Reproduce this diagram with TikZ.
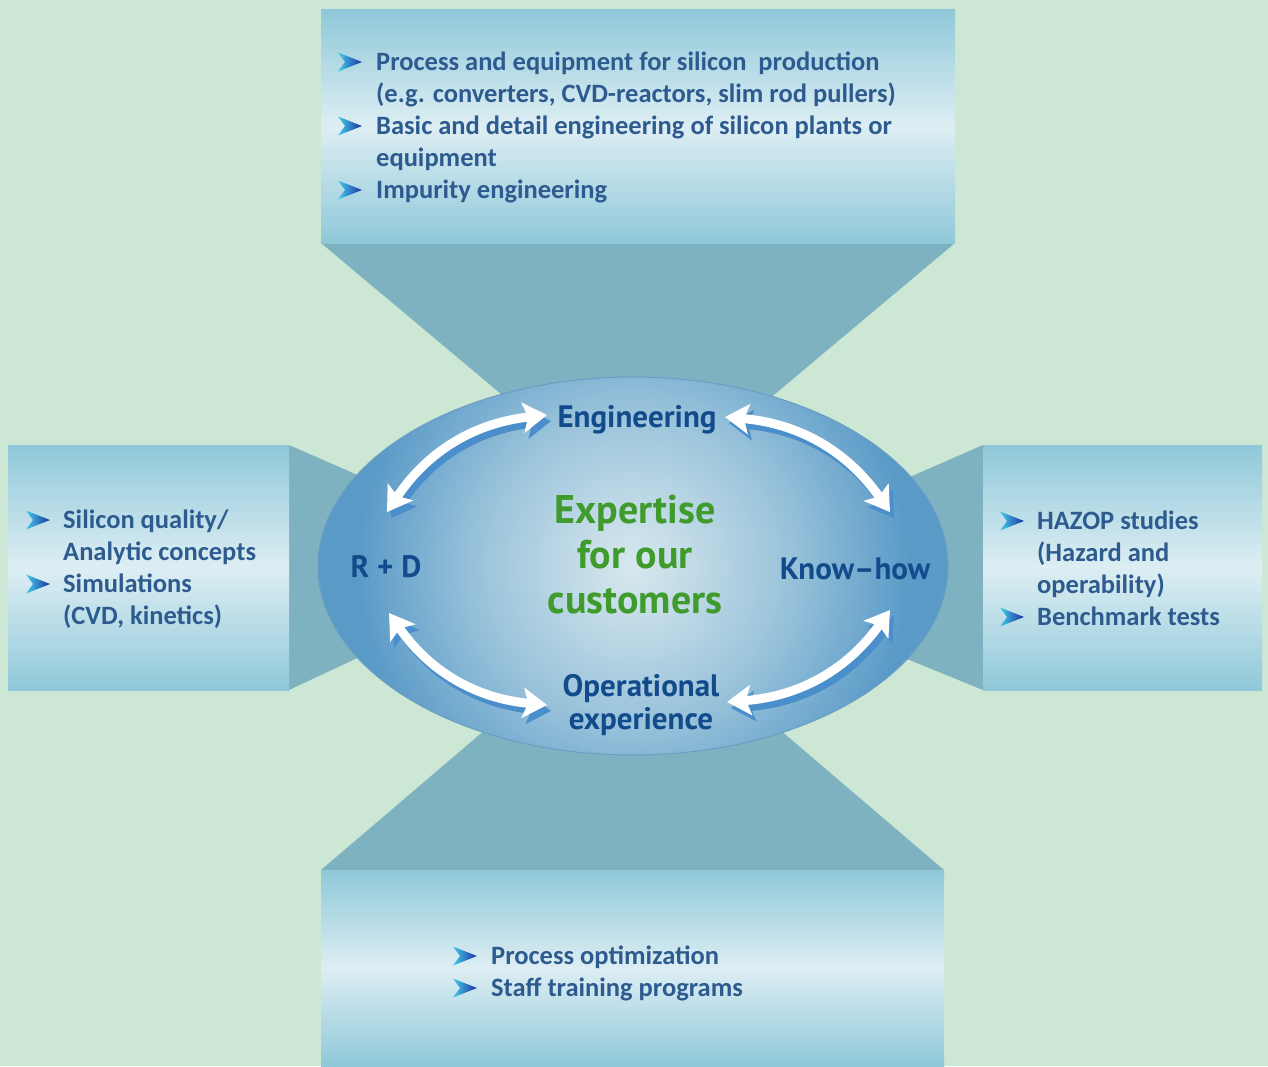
\documentclass[tikz,border=0pt]{standalone}
\usepackage{fontspec}
\setmainfont{Carlito}
\newfontfamily\hubfont{PT Sans}
\usetikzlibrary{positioning,arrows.meta}

\definecolor{bgGreen}{HTML}{CDE7D5}
\definecolor{trapFill}{HTML}{7FB2C1}
\definecolor{boxEdge}{HTML}{8FC8D9}
\definecolor{boxMid}{HTML}{DDEEF3}
\definecolor{itemBlue}{HTML}{2E5B8F}
\definecolor{hubBlue}{HTML}{124B8C}
\definecolor{hubGreen}{HTML}{3E9B2C}
\definecolor{bulCyan}{HTML}{45CBE8}
\definecolor{bulBlue}{HTML}{1A33A3}
\definecolor{arrowShadow}{HTML}{4A8FCB}
\definecolor{hubC}{HTML}{D6E7EE}
\definecolor{hubL}{HTML}{C9DFE9}
\definecolor{hubM}{HTML}{98C2DA}
\definecolor{hubE}{HTML}{5A9AC7}
\definecolor{hubRim}{HTML}{6B9EC2}

\pgfdeclareradialshading{hubglow}{\pgfpoint{0bp}{0bp}}{color(0bp)=(hubC); color(3bp)=(hubL); color(12bp)=(hubM); color(21bp)=(hubE); color(50bp)=(hubE)}

\tikzset{
  panel/.style={top color=boxEdge, bottom color=boxEdge, middle color=boxMid},
  throat/.style={fill=trapFill},
  item/.style={anchor=base west, inner sep=0pt, text=itemBlue, font=\fontsize{26.5}{32}\selectfont\bfseries},
  hub/.style={inner sep=0pt, text=hubBlue, align=center, font=\hubfont\bfseries\fontsize{31}{33}\selectfont},
  bul/.pic={\shade[left color=bulCyan, right color=bulBlue] (-12,-9.5) -- (12,0) -- (-12,9.5) -- (-5,0) -- cycle;},
  twoway/.style={line width=9pt, white, {Stealth[length=24pt,width=30pt,inset=5pt]}-{Stealth[length=24pt,width=30pt,inset=5pt]}},
  twowayshadow/.style={twoway, arrowShadow, transform canvas={shift={(4,6)}}}
}

\begin{document}
\begin{tikzpicture}[x=1pt,y=-1pt]
  \fill[bgGreen] (0,0) rectangle (1268,1066);
  \useasboundingbox (0,0) rectangle (1268,1066);

  \fill[throat] (321,243) -- (955,243) -- (744,420) -- (532,420) -- cycle;
  \fill[throat] (321,870) -- (944,870) -- (745,700) -- (520,700) -- cycle;
  \fill[throat] (289,445) -- (385,487) -- (385,645) -- (289,690) -- cycle;
  \fill[throat] (983,445) -- (880,490) -- (880,648) -- (983,690) -- cycle;

  \shade[panel] (321,9) rectangle (955,243);
  \shade[panel] (8,445) rectangle (289,690);
  \shade[panel] (983,445) rectangle (1262,690);
  \shade[panel] (321,870) rectangle (944,1066);

  \begin{scope}
    \clip (633,566) ellipse [x radius=315, y radius=189];
    \shade[shading=hubglow] (633,566) circle (330);
  \end{scope}
  \draw[hubRim, line width=1pt] (633,566) ellipse [x radius=315, y radius=189];

  \node[item] (t1) at (376,70) {Process and equipment for silicon\ \ production};
  \node[item] (t2) at (376,102) {(e.g. converters, CVD-reactors, slim rod pullers)};
  \node[item] (t3) at (376,134) {Basic and detail engineering of silicon plants or};
  \node[item] (t4) at (376,166) {equipment};
  \node[item] (t5) at (376,198) {Impurity engineering};
  \foreach \y in {62,126,190} \pic at (350,\y) {bul};

  \node[item] (l1) at (63,528) {Silicon quality/};
  \node[item] (l2) at (63,560) {Analytic concepts};
  \node[item] (l3) at (63,592) {Simulations};
  \node[item] (l4) at (63,624) {(CVD, kinetics)};
  \foreach \y in {520,584} \pic at (38,\y) {bul};

  \node[item] (r1) at (1037,529) {HAZOP studies};
  \node[item] (r2) at (1037,561) {(Hazard and};
  \node[item] (r3) at (1037,593) {operability)};
  \node[item] (r4) at (1037,625) {Benchmark tests};
  \foreach \y in {521,617} \pic at (1012,\y) {bul};

  \node[item] (b1) at (491,964) {Process optimization};
  \node[item] (b2) at (491,996) {Staff training programs};
  \foreach \y in {956,988} \pic at (465,\y) {bul};

  \node[hub, anchor=base] (eng) at (637,427) {Engineering};
  \node[hub, anchor=base] (rd) at (386,577) {R\ +\ D};
  \node[hub, anchor=base] (know) at (855,579) {Know–how};
  \node[hub] (oper) at (641,705) {Operational\\experience};
  \node[hub, text=hubGreen, font=\hubfont\bfseries\fontsize{40}{45}\selectfont] (core) at (635,555) {Expertise\\for our\\customers};

  \foreach \sty in {twowayshadow,twoway} {
    \draw[\sty] ([shift={(-90,-12)}]eng.base) to[bend right=25] ([shift={(1,-65)}]rd.base);
    \draw[\sty] ([shift={(88,-10)}]eng.base) to[bend left=25] ([shift={(35,-67)}]know.base);
    \draw[\sty] ([shift={(3,36)}]rd.base) to[bend right=25] ([shift={(-94,0)}]oper.center);
    \draw[\sty] ([shift={(35,31)}]know.base) to[bend left=25] ([shift={(86,-3)}]oper.center);
  }
\end{tikzpicture}
\end{document}
